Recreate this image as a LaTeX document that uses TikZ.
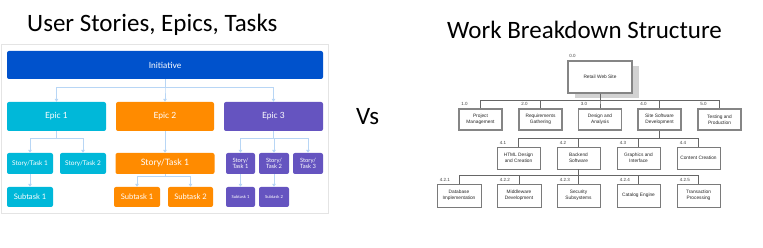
\documentclass[tikz,border=0pt]{standalone}
\usepackage{fontspec}
\setmainfont{Liberation Sans}
\newfontfamily\calfont{Carlito}
\newfontfamily\latofont{Lato}
\usetikzlibrary{arrows.meta}
\definecolor{initc}{HTML}{0052CC}
\definecolor{ecyan}{HTML}{00B8D9}
\definecolor{eorange}{HTML}{FF8B00}
\definecolor{epurple}{HTML}{6554C0}
\definecolor{linec}{HTML}{B8D6F5}
\definecolor{framec}{HTML}{E4E4E4}
\definecolor{rborder}{HTML}{858585}
\definecolor{rthin}{HTML}{7A7A7A}
\definecolor{rlinec}{HTML}{666666}
\definecolor{shadowc}{HTML}{D2D2D2}
\begin{document}
\begin{tikzpicture}[x=1pt,y=-1pt,
  lbox/.style={rounded corners=2pt, text=white, align=center, inner sep=0pt},
  larr/.style={draw=linec, line width=0.8pt, -{Triangle[length=3pt,width=3.6pt]}},
  title/.style={font=\calfont\fontsize{25}{30}\selectfont, inner sep=0pt, anchor=base west},
  wbsthick/.style={draw=rborder, line width=1.6pt, fill=white, align=center, inner sep=0pt,
     font=\fontsize{4.8}{6}\selectfont, text=black!85},
  wbsthin/.style={draw=rthin, line width=0.7pt, fill=white, align=center, inner sep=0pt,
     font=\fontsize{4.8}{6}\selectfont, text=black!85},
  lab/.style={font=\fontsize{4.5}{5}\selectfont, inner sep=0pt, anchor=south west, text=black!75},
  rline/.style={draw=rlinec, line width=0.7pt}
]
\useasboundingbox (0,0) rectangle (763,248);

% ---------- titles ----------
\node[title] (t1) at (27,32) {User Stories, Epics, Tasks};
\node[title] (t2) at (447,38.5) {Work Breakdown Structure};
\node[title] (vs) at (356,125) {Vs};

% ---------- left panel ----------
\draw[framec, line width=0.8pt] (1,44) rectangle (328,213);

\node[lbox, fill=initc, minimum width=316pt, minimum height=28pt,
  font=\latofont\fontsize{8.5}{10}\selectfont] (init) at (165,65) {Initiative};

\node[lbox, fill=ecyan, minimum width=99pt, minimum height=29pt,
  font=\latofont\fontsize{8.5}{10}\selectfont] (e1) at (56.5,116.5) {Epic 1};
\node[lbox, fill=eorange, minimum width=98pt, minimum height=29pt,
  font=\latofont\fontsize{8.5}{10}\selectfont] (e2) at (165,116.5) {Epic 2};
\node[lbox, fill=epurple, minimum width=99pt, minimum height=29pt,
  font=\latofont\fontsize{8.5}{10}\selectfont] (e3) at (273.5,116.5) {Epic 3};

\node[lbox, fill=ecyan, minimum width=46pt, minimum height=21pt,
  font=\latofont\fontsize{6.5}{8}\selectfont] (s11) at (30,163.5) {Story/Task 1};
\node[lbox, fill=ecyan, minimum width=46pt, minimum height=21pt,
  font=\latofont\fontsize{6.5}{8}\selectfont] (s12) at (83,163.5) {Story/Task 2};
\node[lbox, fill=eorange, minimum width=99pt, minimum height=21pt,
  font=\latofont\fontsize{8.8}{10}\selectfont] (s21) at (165,163.5) {Story/Task 1};
\node[lbox, fill=epurple, minimum width=29pt, minimum height=21pt,
  font=\latofont\fontsize{5.8}{6.5}\selectfont] (s31) at (240.5,163.5) {Story/\\Task 1};
\node[lbox, fill=epurple, minimum width=30pt, minimum height=21pt,
  font=\latofont\fontsize{5.8}{6.5}\selectfont] (s32) at (274,163.5) {Story/\\Task 2};
\node[lbox, fill=epurple, minimum width=30pt, minimum height=21pt,
  font=\latofont\fontsize{5.8}{6.5}\selectfont] (s33) at (308,163.5) {Story/\\Task 3};

\node[lbox, fill=ecyan, minimum width=46pt, minimum height=20pt,
  font=\latofont\fontsize{7.6}{9}\selectfont] (t11) at (30,197) {Subtask 1};
\node[lbox, fill=eorange, minimum width=46pt, minimum height=20pt,
  font=\latofont\fontsize{7.6}{9}\selectfont] (t21) at (137,197) {Subtask 1};
\node[lbox, fill=eorange, minimum width=45pt, minimum height=20pt,
  font=\latofont\fontsize{7.6}{9}\selectfont] (t22) at (190.5,197) {Subtask 2};
\node[lbox, fill=epurple, minimum width=29pt, minimum height=20pt,
  font=\latofont\fontsize{4.2}{5}\selectfont] (t31) at (240.5,197) {Subtask 1};
\node[lbox, fill=epurple, minimum width=30pt, minimum height=20pt,
  font=\latofont\fontsize{4.2}{5}\selectfont] (t32) at (274,197) {Subtask 2};

% left connectors
\foreach \c in {e1,e2,e3}
  \draw[larr] (init.south) |- ([yshift=14pt]\c.north) -- (\c.north);
\foreach \c in {s11,s12}
  \draw[larr] (e1.south) |- ([yshift=14pt]\c.north) -- (\c.north);
\draw[larr] (e2.south) -- (s21.north);
\foreach \c in {s31,s32,s33}
  \draw[larr] (e3.south) |- ([yshift=14pt]\c.north) -- (\c.north);
\draw[larr] (s11.south) -- (t11.north);
\foreach \c in {t21,t22}
  \draw[larr] (s21.south) |- ([yshift=10pt]\c.north) -- (\c.north);
\draw[larr] (s31.south) -- (t31.north);
\draw[larr] (s32.south) -- (t32.north);

% ---------- right panel: WBS ----------
\node[fill=shadowc, minimum width=64pt, minimum height=32pt, inner sep=0pt] (rootsh) at (607,82) {};
\node[wbsthick, minimum width=64pt, minimum height=32pt] (root) at (600,77) {Retail Web Site};
\node[lab] (lroot) at ([xshift=2pt,yshift=2pt]root.north west) {0.0};

% level 1
\node[wbsthick, minimum width=43pt, minimum height=21pt] (pm) at (480.5,119.5) {Project\\Management};
\node[wbsthick, minimum width=43pt, minimum height=21pt] (rg) at (540.5,119.5) {Requirements\\Gathering};
\node[wbsthick, minimum width=43pt, minimum height=21pt] (da) at (600,119.5) {Design and\\Analysis};
\node[wbsthick, minimum width=43pt, minimum height=21pt] (ssd) at (659.5,119.5) {Site Software\\Development};
\node[wbsthick, minimum width=43pt, minimum height=21pt] (tp) at (719.5,119.5) {Testing and\\Production};
\node[lab] (lpm) at ([xshift=3pt,yshift=2pt]pm.north west) {1.0};
\node[lab] (lrg) at ([xshift=3pt,yshift=2pt]rg.north west) {2.0};
\node[lab] (lda) at ([xshift=3pt,yshift=2pt]da.north west) {3.0};
\node[lab] (lssd) at ([xshift=3pt,yshift=2pt]ssd.north west) {4.0};
\node[lab] (ltp) at ([xshift=3pt,yshift=2pt]tp.north west) {5.0};
\foreach \c in {pm,rg,da,ssd,tp}
  \draw[rline] (root.south) |- ([yshift=8pt]\c.north) -- (\c.north);

% level 2
\node[wbsthin, minimum width=43pt, minimum height=22pt] (html) at (518.5,158) {HTML Design\\and Creation};
\node[wbsthin, minimum width=43pt, minimum height=22pt] (be) at (578.5,158) {Backend\\Software};
\node[wbsthin, minimum width=43pt, minimum height=22pt] (gi) at (638.5,158) {Graphics and\\Interface};
\node[wbsthin, minimum width=43pt, minimum height=22pt] (cc) at (698.5,158) {Content Creation};
\node[lab] (lhtml) at ([xshift=3pt,yshift=2pt]html.north west) {4.1};
\node[lab] (lbe) at ([xshift=3pt,yshift=2pt]be.north west) {4.2};
\node[lab] (lgi) at ([xshift=3pt,yshift=2pt]gi.north west) {4.3};
\node[lab] (lcc) at ([xshift=3pt,yshift=2pt]cc.north west) {4.4};
\foreach \c in {html,be,gi,cc}
  \draw[rline] (ssd.south) |- ([yshift=8pt]\c.north) -- (\c.north);

% level 3
\node[wbsthin, minimum width=44pt, minimum height=23pt] (db) at (459,195.5) {Database\\Implementation};
\node[wbsthin, minimum width=44pt, minimum height=23pt] (mw) at (519,195.5) {Middleware\\Development};
\node[wbsthin, minimum width=43pt, minimum height=23pt] (sec) at (578.5,195.5) {Security\\Subsystems};
\node[wbsthin, minimum width=43pt, minimum height=23pt] (cat) at (638.5,195.5) {Catalog Engine};
\node[wbsthin, minimum width=43pt, minimum height=23pt] (tr) at (698.5,195.5) {Transaction\\Processing};
\node[lab] (ldb) at ([xshift=3pt,yshift=2pt]db.north west) {4.2.1};
\node[lab] (lmw) at ([xshift=3pt,yshift=2pt]mw.north west) {4.2.2};
\node[lab] (lsec) at ([xshift=3pt,yshift=2pt]sec.north west) {4.2.3};
\node[lab] (lcat) at ([xshift=3pt,yshift=2pt]cat.north west) {4.2.4};
\node[lab] (ltr) at ([xshift=3pt,yshift=2pt]tr.north west) {4.2.5};
\foreach \c in {db,mw,sec,cat,tr}
  \draw[rline] (be.south) |- ([yshift=8pt]\c.north) -- (\c.north);
\end{tikzpicture}
\end{document}
